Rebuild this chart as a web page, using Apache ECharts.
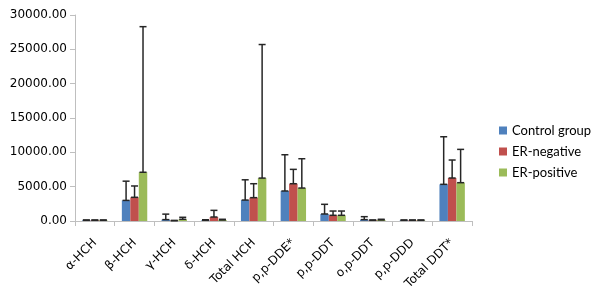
<!DOCTYPE html>
<html>
<head>
<meta charset="utf-8">
<script src="https://cdn.jsdelivr.net/npm/echarts@6/dist/echarts.min.js"></script>
<style>
  html, body { margin: 0; padding: 0; background: #fff; }
  #chart { width: 600px; height: 295px; }
</style>
</head>
<body>
<div id="chart"></div>
<script>
const categories = ['α-HCH', 'β-HCH', 'γ-HCH', 'δ-HCH', 'Total HCH', 'p,p-DDE*', 'p,p-DDT', 'o,p-DDT', 'p,p-DDD', 'Total DDT*'];
const seriesNames = ['Control group', 'ER-negative', 'ER-positive'];

// bar means
const controlMean = [100, 3000, 200, 100, 3050, 4370, 1020, 200, 100, 5340];
const negativeMean = [100, 3450, 50, 580, 3400, 5430, 830, 100, 100, 6260];
const positiveMean = [100, 7100, 250, 150, 6250, 4800, 830, 150, 100, 5580];

// upper end of error bars
const controlTop = [150, 5800, 1000, 180, 6000, 9650, 2430, 630, 150, 12270];
const negativeTop = [150, 5100, 80, 1550, 5430, 7520, 1450, 150, 150, 8880];
const positiveTop = [150, 28300, 540, 250, 25700, 9070, 1450, 250, 150, 10430];

const yTicks = [0, 5000, 10000, 15000, 20000, 25000, 30000];

const colors = ['#4F81BD', '#C0504D', '#9BBB59'];
const means = [controlMean, negativeMean, positiveMean];
const tops = [controlTop, negativeTop, positiveTop];

const chart = echarts.init(document.getElementById('chart'));

const barSeries = seriesNames.map((name, i) => ({
  name: name,
  type: 'bar',
  data: means[i],
  barCategoryGap: '36%',
  barGap: '0%',
  itemStyle: { color: colors[i] }
}));

// error bars drawn as an I shape centered on each bar
const errorSeries = seriesNames.map((name, i) => ({
  type: 'custom',
  name: name + ' err',
  z: 10,
  data: categories.map((c, k) => [k, means[i][k], tops[i][k]]),
  renderItem: function (params, api) {
    const k = api.value(0);
    const low = api.coord([k, api.value(1)]);
    const high = api.coord([k, api.value(2)]);
    const band = api.size([1, 0])[0];
    const group = band * 0.64;
    const bw = group / 3;
    const x = low[0] - group / 2 + bw * (i + 0.5);
    const cap = 3.5;
    const style = { stroke: '#262626', lineWidth: 1.5 };
    return {
      type: 'group',
      children: [
        { type: 'line', shape: { x1: x, y1: low[1], x2: x, y2: high[1] }, style: style },
        { type: 'line', shape: { x1: x - cap, y1: high[1], x2: x + cap, y2: high[1] }, style: style },
        { type: 'line', shape: { x1: x - cap, y1: low[1], x2: x + cap, y2: low[1] }, style: style }
      ]
    };
  }
}));

const option = {
  animation: false,
  grid: { left: 75, right: 128, top: 15, bottom: 74 },
  legend: {
    data: seriesNames,
    orient: 'vertical',
    left: 494,
    top: 119,
    itemWidth: 8,
    itemHeight: 8,
    itemGap: 8,
    icon: 'rect',
    textStyle: { fontFamily: 'Lato', fontSize: 13, color: '#000' }
  },
  xAxis: {
    type: 'category',
    data: categories,
    axisLine: { lineStyle: { color: '#BFBFBF' } },
    axisTick: { show: true, length: 5, lineStyle: { color: '#BFBFBF' } },
    axisLabel: {
      rotate: 45,
      interval: 0,
      margin: 20,
      fontFamily: 'DejaVu Sans',
      fontSize: 12,
      color: '#000'
    }
  },
  yAxis: {
    type: 'value',
    min: yTicks[0],
    max: yTicks[yTicks.length - 1],
    interval: 5000,
    axisLine: { show: true, lineStyle: { color: '#BFBFBF' } },
    axisTick: { show: true, length: 5, lineStyle: { color: '#BFBFBF' } },
    splitLine: { show: false },
    axisLabel: {
      margin: 8,
      fontFamily: 'DejaVu Sans',
      fontSize: 12,
      color: '#000',
      formatter: v => v.toFixed(2)
    }
  },
  series: [...barSeries, ...errorSeries]
};

chart.setOption(option);
</script>
</body>
</html>
